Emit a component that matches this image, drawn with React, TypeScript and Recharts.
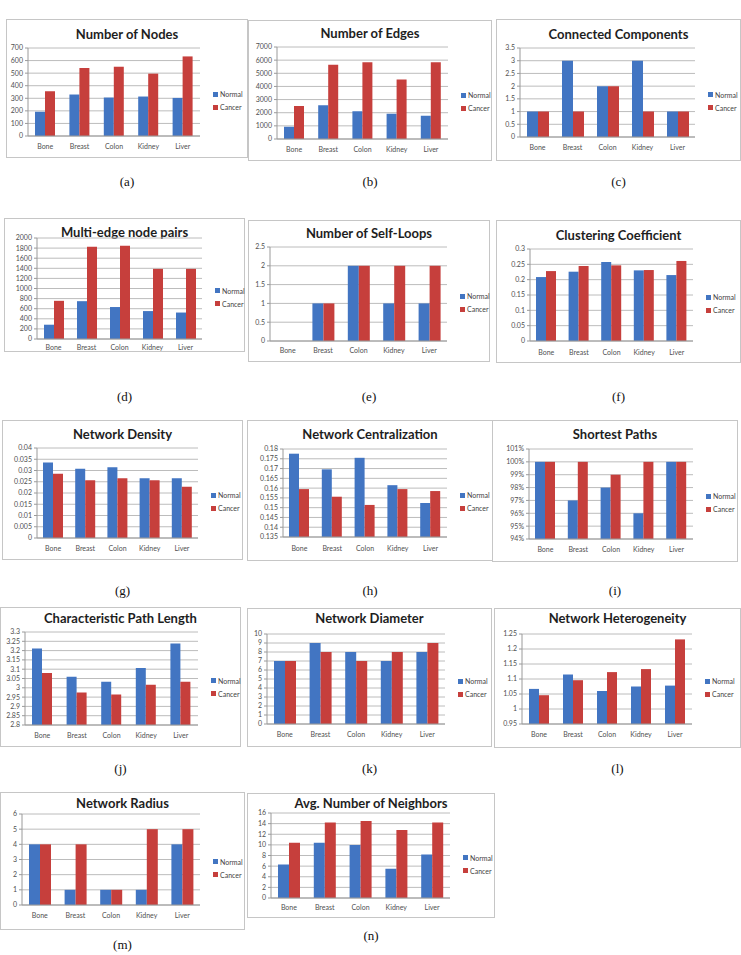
import React from 'react';
import { BarChart, Bar, XAxis, YAxis, CartesianGrid } from 'recharts';

// Tissue types shown on every panel
const categories = ['Bone', 'Breast', 'Colon', 'Kidney', 'Liver'];
const seriesNames = ['Normal', 'Cancer'];

// (a) Number of Nodes
const nodesNormal = [193, 330, 306, 314, 303];
const nodesCancer = [356, 541, 551, 496, 633];
const nodesTicks = [0, 100, 200, 300, 400, 500, 600, 700];

// (b) Number of Edges
const edgesNormal = [930, 2570, 2115, 1915, 1760];
const edgesCancer = [2520, 5640, 5840, 4530, 5840];
const edgesTicks = [0, 1000, 2000, 3000, 4000, 5000, 6000, 7000];

// (c) Connected Components
const componentsNormal = [1, 3, 2, 3, 1];
const componentsCancer = [1, 1, 2, 1, 1];
const componentsTicks = [0, 0.5, 1, 1.5, 2, 2.5, 3, 3.5];

// (d) Multi-edge node pairs
const multiEdgeNormal = [283, 749, 633, 553, 524];
const multiEdgeCancer = [756, 1825, 1847, 1389, 1389];
const multiEdgeTicks = [0, 200, 400, 600, 800, 1000, 1200, 1400, 1600, 1800, 2000];

// (e) Number of Self-Loops
const selfLoopsNormal = [0, 1, 2, 1, 1];
const selfLoopsCancer = [0, 1, 2, 2, 2];
const selfLoopsTicks = [0, 0.5, 1, 1.5, 2, 2.5];

// (f) Clustering Coefficient
const clusteringNormal = [0.2085, 0.226, 0.2577, 0.2303, 0.215];
const clusteringCancer = [0.228, 0.2445, 0.2467, 0.2314, 0.261];
const clusteringTicks = [0, 0.05, 0.1, 0.15, 0.2, 0.25, 0.3];

// (g) Network Density
const densityNormal = [0.0336, 0.0308, 0.0315, 0.0266, 0.0266];
const densityCancer = [0.0286, 0.0257, 0.0266, 0.0257, 0.0228];
const densityTicks = [0, 0.005, 0.01, 0.015, 0.02, 0.025, 0.03, 0.035, 0.04];

// (h) Network Centralization
const centralizationNormal = [0.1776, 0.1696, 0.1755, 0.1615, 0.1524];
const centralizationCancer = [0.1595, 0.1556, 0.1514, 0.1595, 0.1585];
const centralizationTicks = [0.135, 0.14, 0.145, 0.15, 0.155, 0.16, 0.165, 0.17, 0.175, 0.18];

// (i) Shortest Paths (%)
const shortestNormal = [100, 97, 98, 96, 100];
const shortestCancer = [100, 100, 99, 100, 100];
const shortestTicks = [94, 95, 96, 97, 98, 99, 100, 101];

// (j) Characteristic Path Length
const pathLengthNormal = [3.211, 3.059, 3.032, 3.107, 3.238];
const pathLengthCancer = [3.08, 2.975, 2.964, 3.016, 3.032];
const pathLengthTicks = [2.8, 2.85, 2.9, 2.95, 3, 3.05, 3.1, 3.15, 3.2, 3.25, 3.3];

// (k) Network Diameter
const diameterNormal = [7, 9, 8, 7, 8];
const diameterCancer = [7, 8, 7, 8, 9];
const diameterTicks = [0, 1, 2, 3, 4, 5, 6, 7, 8, 9, 10];

// (l) Network Heterogeneity
const heterogeneityNormal = [1.067, 1.115, 1.06, 1.075, 1.078];
const heterogeneityCancer = [1.046, 1.096, 1.123, 1.133, 1.232];
const heterogeneityTicks = [0.95, 1, 1.05, 1.1, 1.15, 1.2, 1.25];

// (m) Network Radius
const radiusNormal = [4, 1, 1, 1, 4];
const radiusCancer = [4, 4, 1, 5, 5];
const radiusTicks = [0, 1, 2, 3, 4, 5, 6];

// (n) Avg. Number of Neighbors
const neighborsNormal = [6.3, 10.4, 10.0, 5.5, 8.2];
const neighborsCancer = [10.4, 14.2, 14.5, 12.8, 14.2];
const neighborsTicks = [0, 2, 4, 6, 8, 10, 12, 14, 16];

const BLUE = '#4275C2';
const RED = '#C63F3C';
const AXIS = '#9a9a9a';
const SANS = 'Lato, "Open Sans", sans-serif';

type Box = { x: number; y: number; w: number; h: number };
type Plot = { l: number; r: number; t: number; b: number };
type PanelCfg = {
  title: string;
  normal: number[];
  cancer: number[];
  ticks: number[];
  fmt?: (v: number) => string;
  box: Box;
  plot: Plot;
  titleY: number;
  catY: number;
  label: string;
  labelY: number;
};

const pct = (v: number) => `${v}%`;

const panels: PanelCfg[] = [
  { title: 'Number of Nodes', normal: nodesNormal, cancer: nodesCancer, ticks: nodesTicks,
    box: { x: 6, y: 19, w: 242, h: 139 }, plot: { l: 22, r: 48, t: 29, b: 117 }, titleY: 14, catY: 128, label: '(a)', labelY: 182 },
  { title: 'Number of Edges', normal: edgesNormal, cancer: edgesCancer, ticks: edgesTicks,
    box: { x: 248, y: 20, w: 244, h: 141 }, plot: { l: 29, r: 44, t: 27, b: 119 }, titleY: 12, catY: 130, label: '(b)', labelY: 182 },
  { title: 'Connected Components', normal: componentsNormal, cancer: componentsCancer, ticks: componentsTicks,
    box: { x: 496, y: 19, w: 245, h: 142 }, plot: { l: 24, r: 46, t: 29, b: 118 }, titleY: 14, catY: 129, label: '(c)', labelY: 182 },
  { title: 'Multi-edge node pairs', normal: multiEdgeNormal, cancer: multiEdgeCancer, ticks: multiEdgeTicks,
    box: { x: 4, y: 218, w: 241, h: 134 }, plot: { l: 33, r: 43, t: 20, b: 121 }, titleY: 13, catY: 130, label: '(d)', labelY: 397 },
  { title: 'Number of Self-Loops', normal: selfLoopsNormal, cancer: selfLoopsCancer, ticks: selfLoopsTicks,
    box: { x: 248, y: 220, w: 242, h: 142 }, plot: { l: 22, r: 43, t: 27, b: 121 }, titleY: 12, catY: 131, label: '(e)', labelY: 397 },
  { title: 'Clustering Coefficient', normal: clusteringNormal, cancer: clusteringCancer, ticks: clusteringTicks,
    box: { x: 496, y: 220, w: 245, h: 143 }, plot: { l: 34, r: 48, t: 29, b: 121 }, titleY: 14, catY: 133, label: '(f)', labelY: 397 },
  { title: 'Network Density', normal: densityNormal, cancer: densityCancer, ticks: densityTicks,
    box: { x: 2, y: 420, w: 241, h: 140 }, plot: { l: 35, r: 45, t: 28, b: 118 }, titleY: 13, catY: 129, label: '(g)', labelY: 591 },
  { title: 'Network Centralization', normal: centralizationNormal, cancer: centralizationCancer, ticks: centralizationTicks,
    box: { x: 247, y: 420, w: 246, h: 141 }, plot: { l: 36, r: 46, t: 29, b: 117 }, titleY: 13, catY: 129, label: '(h)', labelY: 591 },
  { title: 'Shortest Paths', normal: shortestNormal, cancer: shortestCancer, ticks: shortestTicks, fmt: pct,
    box: { x: 492, y: 420, w: 246, h: 142 }, plot: { l: 37, r: 45, t: 29, b: 119 }, titleY: 13, catY: 130, label: '(i)', labelY: 591 },
  { title: 'Characteristic Path Length', normal: pathLengthNormal, cancer: pathLengthCancer, ticks: pathLengthTicks,
    box: { x: 0, y: 607, w: 241, h: 140 }, plot: { l: 25, r: 43, t: 25, b: 118 }, titleY: 10, catY: 129, label: '(j)', labelY: 769 },
  { title: 'Network Diameter', normal: diameterNormal, cancer: diameterCancer, ticks: diameterTicks,
    box: { x: 247, y: 608, w: 245, h: 139 }, plot: { l: 20, r: 47, t: 26, b: 116 }, titleY: 9, catY: 127, label: '(k)', labelY: 769 },
  { title: 'Network Heterogeneity', normal: heterogeneityNormal, cancer: heterogeneityCancer, ticks: heterogeneityTicks,
    box: { x: 494, y: 608, w: 247, h: 140 }, plot: { l: 28, r: 49, t: 26, b: 116 }, titleY: 9, catY: 127, label: '(l)', labelY: 769 },
  { title: 'Network Radius', normal: radiusNormal, cancer: radiusCancer, ticks: radiusTicks,
    box: { x: 0, y: 792, w: 245, h: 138 }, plot: { l: 22, r: 45, t: 22, b: 113 }, titleY: 10, catY: 124, label: '(m)', labelY: 945 },
  { title: 'Avg. Number of Neighbors', normal: neighborsNormal, cancer: neighborsCancer, ticks: neighborsTicks,
    box: { x: 247, y: 793, w: 248, h: 125 }, plot: { l: 24, r: 45, t: 20, b: 105 }, titleY: 9, catY: 115, label: '(n)', labelY: 936 },
];

function toRows(normal: number[], cancer: number[]) {
  return categories.map((name, i) => ({ name, [seriesNames[0]]: normal[i], [seriesNames[1]]: cancer[i] }));
}

const tickStyle = { fontSize: 7, fill: '#505050', fontFamily: SANS };

function Panel({ cfg }: { cfg: PanelCfg }) {
  const { title, normal, cancer, ticks, fmt, box, plot, titleY, catY, label, labelY } = cfg;
  const data = toRows(normal, cancer);
  const domain: [number, number] = [ticks[0], ticks[ticks.length - 1]];
  const mid = (plot.t + plot.b) / 2;
  const legendLeft = box.w - plot.r + 12;
  // each category band holds two touching bars with ~40% of the band left as gap
  const band = (box.w - plot.l - plot.r) / categories.length;
  const barSize = Math.round(band * 0.3);
  return (
    <>
      <div
        style={{
          position: 'absolute', left: box.x, top: box.y, width: box.w, height: box.h,
          border: '1px solid #c6c6c6', boxSizing: 'border-box', background: '#fff',
        }}
      >
        <div
          style={{
            position: 'absolute', left: 0, top: titleY - 9, width: '100%', textAlign: 'center',
            fontFamily: SANS, fontWeight: 700, fontSize: 13, lineHeight: '18px', color: '#1e1e1e',
          }}
        >
          {title}
        </div>
        <div style={{ position: 'absolute', left: 0, top: 0 }}>
          <BarChart
            width={box.w - 2}
            height={box.h - 2}
            data={data}
            margin={{ top: plot.t - 1, right: plot.r - 1, left: 0, bottom: 0 }}
            barGap={0}
            barSize={barSize}
          >
            <CartesianGrid vertical={false} stroke="#bcbcbc" />
            <XAxis
              dataKey="name"
              tickLine={false}
              axisLine={{ stroke: AXIS }}
              tick={tickStyle}
              height={box.h - 1 - plot.b}
              tickSize={0}
              tickMargin={catY - plot.b - 3}
              interval={0}
            />
            <YAxis
              type="number"
              domain={domain}
              ticks={ticks}
              allowDataOverflow
              width={plot.l - 1}
              tickFormatter={fmt}
              tick={tickStyle}
              tickSize={3}
              tickLine={{ stroke: AXIS }}
              axisLine={{ stroke: AXIS }}
              tickMargin={2}
              interval={0}
            />
            <Bar dataKey={seriesNames[0]} fill={BLUE} isAnimationActive={false} />
            <Bar dataKey={seriesNames[1]} fill={RED} isAnimationActive={false} />
          </BarChart>
        </div>
        {seriesNames.map((s, i) => (
          <div
            key={s}
            style={{
              position: 'absolute', left: legendLeft, top: mid - 4 + i * 13, height: 10,
              display: 'flex', alignItems: 'center', fontFamily: SANS, fontSize: 7, color: '#444',
              whiteSpace: 'nowrap',
            }}
          >
            <span style={{ display: 'inline-block', width: 5, height: 5, background: i === 0 ? BLUE : RED, marginRight: 2 }} />
            {s}
          </div>
        ))}
      </div>
      <div
        style={{
          position: 'absolute', left: box.x + box.w / 2 - 25, width: 50, top: labelY - 9, textAlign: 'center',
          fontFamily: '"Liberation Serif", "DejaVu Serif", serif', fontSize: 13, lineHeight: '18px', color: '#111',
        }}
      >
        {label}
      </div>
    </>
  );
}

export default function App() {
  return (
    <div style={{ position: 'absolute', left: 0, top: 0, width: 741, height: 955, background: '#fff', overflow: 'hidden' }}>
      {panels.map((p) => (
        <Panel key={p.label} cfg={p} />
      ))}
    </div>
  );
}
